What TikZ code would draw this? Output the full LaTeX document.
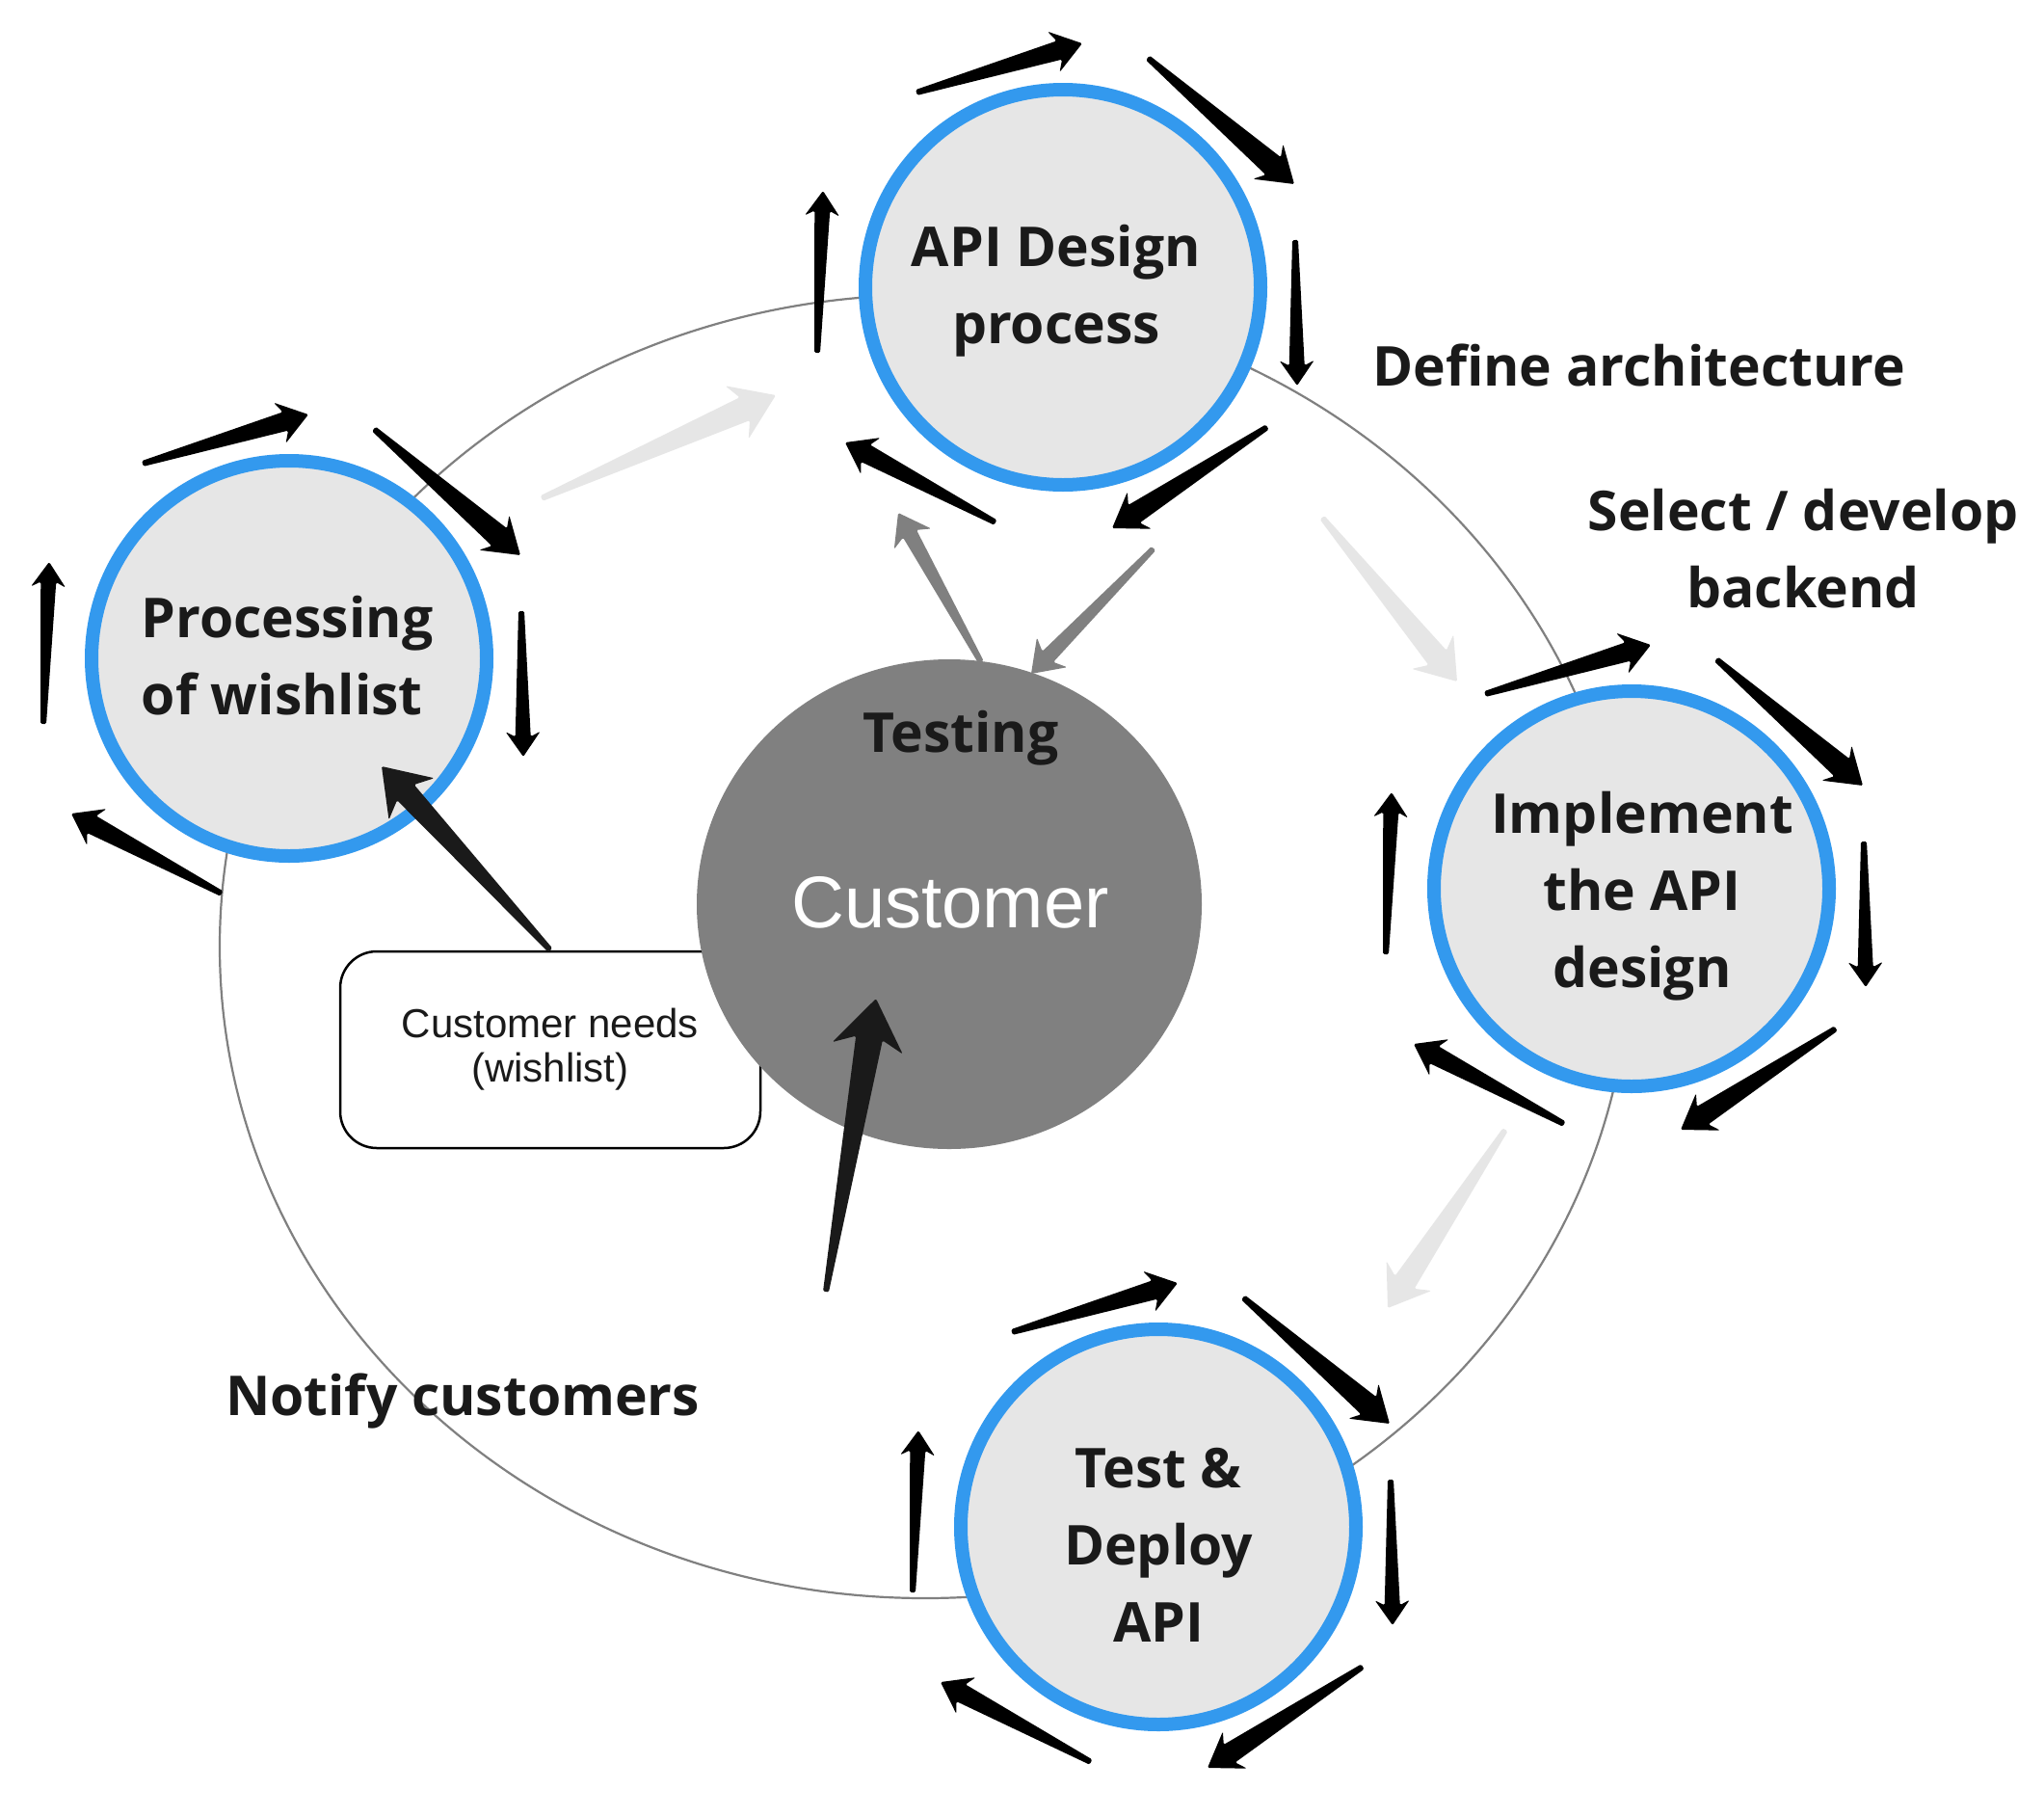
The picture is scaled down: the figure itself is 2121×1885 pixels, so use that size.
\documentclass[tikz,border=0pt]{standalone}
\usepackage{fontspec}
\newfontfamily\osans{Open Sans}
\newfontfamily\lsans{Liberation Sans}
\usetikzlibrary{calc,shapes.geometric}
\definecolor{bluec}{HTML}{3399EE}
\definecolor{cfill}{HTML}{E6E6E6}
\definecolor{textc}{HTML}{1A1A1A}
\definecolor{custc}{HTML}{808080}
\definecolor{lightarr}{HTML}{E6E6E6}
\definecolor{midarr}{HTML}{808080}
\definecolor{darkarr}{HTML}{1A1A1A}
\definecolor{loopc}{HTML}{808080}

% tapered arrow: tail, tip, head length, head half width, shaft half width, colour
\newcommand{\taparrow}[6]{%
  \pgfmathsetmacro\tpjlen{0.8*#3}%
  \coordinate (tpB) at ($(#2)!#3pt!(#1)$);%
  \coordinate (tpJ) at ($(#2)!\tpjlen pt!(#1)$);%
  \fill[#6, rounded corners=1.5pt]
    ($(#1)!3pt!90:(#2)$) -- ($(tpJ)!#5pt!90:(#2)$) -- ($(tpB)!#4pt!90:(#2)$)
    -- (#2) -- ($(tpB)!#4pt!-90:(#2)$) -- ($(tpJ)!#5pt!-90:(#2)$)
    -- ($(#1)!3pt!-90:(#2)$) -- cycle;%
}

% cycle arrows around a stage circle (arrow 4 separately)
\newcommand{\cyclearrows}[1]{%
  \coordinate (#1-t1) at ($(#1)+(-152,-202)$); \coordinate (#1-h1) at ($(#1)+(20,-253)$);
  \coordinate (#1-t2) at ($(#1)+(88,-238)$);   \coordinate (#1-h2) at ($(#1)+(240,-107)$);
  \coordinate (#1-t3) at ($(#1)+(241,-49)$);   \coordinate (#1-h3) at ($(#1)+(243,102)$);
  \coordinate (#1-t5) at ($(#1)+(-70,244)$);   \coordinate (#1-h5) at ($(#1)+(-226,161)$);
  \coordinate (#1-t6) at ($(#1)+(-255,68)$);   \coordinate (#1-h6) at ($(#1)+(-249,-100)$);
  \taparrow{#1-t1}{#1-h1}{31}{22}{10}{black}
  \taparrow{#1-t2}{#1-h2}{36}{24}{12}{black}
  \taparrow{#1-t3}{#1-h3}{26}{18}{8}{black}
  \taparrow{#1-t5}{#1-h5}{30}{21.5}{10}{black}
  \taparrow{#1-t6}{#1-h6}{26}{18}{8}{black}
}
\newcommand{\fourtharrow}[1]{%
  \coordinate (#1-t4) at ($(#1)+(212,145)$);   \coordinate (#1-h4) at ($(#1)+(51,250)$);
  \taparrow{#1-t4}{#1-h4}{34}{23}{11}{black}
}

\tikzset{
  stage/.style={circle, draw=bluec, line width=14pt, fill=cfill, minimum size=410pt, inner sep=0pt},
  lbl/.style={font=\osans\bfseries\fontsize{57}{80}\selectfont, text=textc, inner sep=0pt},
  loop/.style={draw=loopc, line width=2.2pt},
}

\begin{document}
\begin{tikzpicture}[x=1pt,y=-1pt]
\useasboundingbox (0,0) rectangle (2121,1885);
\fill[white] (0,0) rectangle (2121,1885);

% big loop
\draw[loop] (960,982) ellipse [x radius=732pt, y radius=676pt];

% light grey flow arrows
\coordinate (la-t) at (562,517);  \coordinate (la-h) at (805,410);
\coordinate (lb-t) at (1372,537); \coordinate (lb-h) at (1512,707);
\coordinate (lc-t) at (1562,1172); \coordinate (lc-h) at (1440,1357);
\taparrow{la-t}{la-h}{44}{30}{13}{lightarr}
\taparrow{lb-t}{lb-h}{40}{28}{12}{lightarr}
\taparrow{lc-t}{lc-h}{40}{28}{12}{lightarr}

% stage circles
\node[stage] (api)  at (1103,298) {};
\node[stage] (proc) at (300,683) {};
\node[stage] (impl) at (1693,922) {};
\node[stage] (test) at (1202,1584) {};

\cyclearrows{api}  \fourtharrow{api}
\cyclearrows{proc}
\cyclearrows{impl} \fourtharrow{impl}
\cyclearrows{test} \fourtharrow{test}

% customer needs box
\node[draw=black, line width=2.5pt, rounded corners=38pt, minimum width=436pt, minimum height=204pt,
      fill=white, align=center, inner sep=0pt, font=\lsans\fontsize{42}{46}\selectfont, text=textc]
      (needs) at (571,1089) {Customer needs\\(wishlist)};

% customer ellipse
\node[ellipse, fill=custc, minimum width=524pt, minimum height=508pt, inner sep=0pt] (cust) at (985,938) {};

% medium grey arrows
\coordinate (md-t) at (1018,687); \coordinate (md-h) at (932,532);
\coordinate (me-t) at (1197,569); \coordinate (me-h) at (1070,699);
\taparrow{md-t}{md-h}{31}{22}{8}{midarr}
\taparrow{me-t}{me-h}{31}{22}{8}{midarr}

% dark arrows
\coordinate (df-h) at (396,795);
\coordinate (dg-t) at (857,1340); \coordinate (dg-h) at (909,1036);
\taparrow{needs.north}{df-h}{46}{32}{12}{darkarr}
\taparrow{dg-t}{dg-h}{52}{37}{14}{darkarr}

% labels
\node[lbl, align=center] (api-l)  at (1096,302) {API Design\\process};
\node[lbl, align=left]   (proc-l) at (298,680) {Processing\\of wishlist};
\node[lbl, align=center] (impl-l) at (1704,930) {Implement\\the API\\design};
\node[lbl, align=center] (test-l) at (1202,1603) {Test \&\\Deploy\\API};
\node[lbl, align=center] (sel-l)  at (1871,569) {Select / develop\\backend};
\node[lbl, anchor=base west] (def-l) at (1424,400) {Define architecture};
\node[lbl, anchor=base west] (not-l) at (234,1468) {Notify customers};
\node[lbl, anchor=base] (testing-l) at (997,780) {Testing};
\node[font=\lsans\fontsize{76}{90}\selectfont, text=white, anchor=base, inner sep=0pt] (cust-l) at (986,962) {Customer};
\end{tikzpicture}
\end{document}
